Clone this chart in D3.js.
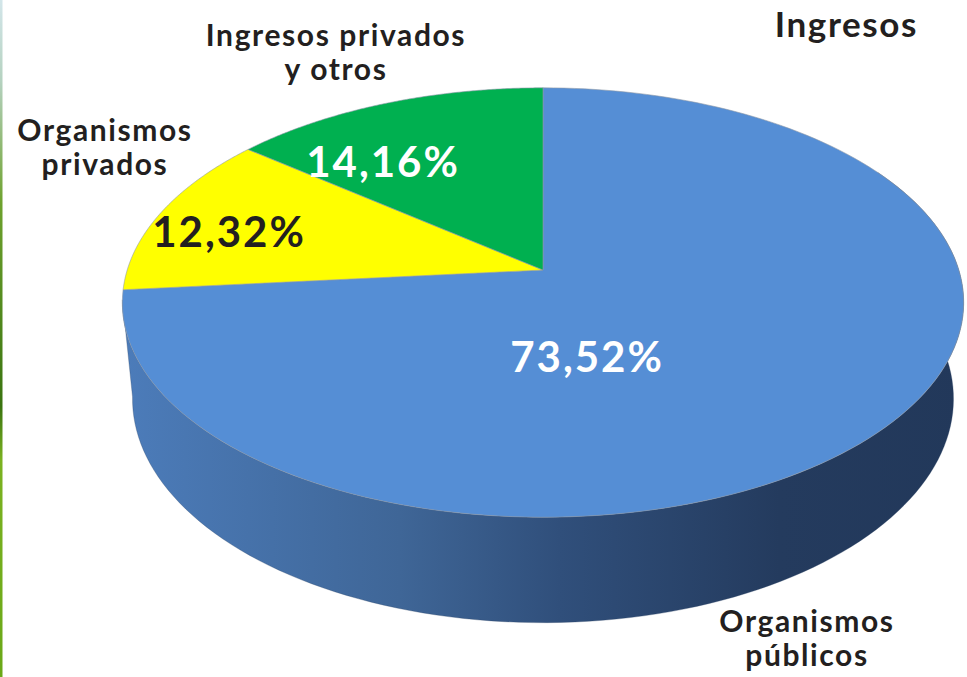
<!DOCTYPE html>
<html>
<head>
<meta charset="utf-8">
<script src="https://cdn.jsdelivr.net/npm/d3@7"></script>
<style>
  body { margin: 0; background: #fff; }
  text { font-family: "Lato", "DejaVu Sans", sans-serif; font-weight: bold; }
</style>
</head>
<body>
<script>
var width = 967, height = 677;

// data
var categories = ["Organismos públicos", "Organismos privados", "Ingresos privados y otros"];
var values = [73.52, 12.32, 14.16];
var valueLabels = ["73,52%", "12,32%", "14,16%"];
var colors = ["#558ed5", "#ffff00", "#00b050"];
var title = "Ingresos";

// perspective set-up for the 3D disc
var cx = 543, cy = 270;      // projected centre of the top face
var k = 2370;                // focal scale
var tilt = 30.3 * Math.PI / 180;
var sinT = Math.sin(tilt), cosT = Math.cos(tilt);
var D = 5.70;                // camera distance (disc radius = 1)
var thick = 0.273;           // disc thickness

function proj(theta, r, y) {
    var X = r * Math.sin(theta), Z = -r * Math.cos(theta), Y = y;
    var depth = D - (Y * sinT + Z * cosT);
    return [cx + k * X / depth, cy + k * (Z * sinT - Y * cosT) / depth];
}

var svg = d3.select("body").append("svg")
    .attr("width", width)
    .attr("height", height);

var defs = svg.append("defs");

// thin coloured strip on the left edge of the page
var strip = defs.append("linearGradient")
    .attr("id", "strip")
    .attr("x1", 0).attr("y1", 0).attr("x2", 0).attr("y2", 1);
strip.append("stop").attr("offset", "0").attr("stop-color", "#d3e6ea");
strip.append("stop").attr("offset", "0.12").attr("stop-color", "#b5d2c0");
strip.append("stop").attr("offset", "0.3").attr("stop-color", "#6ea22e");
strip.append("stop").attr("offset", "0.6").attr("stop-color", "#3a7410");
strip.append("stop").attr("offset", "0.68").attr("stop-color", "#7bb221");
strip.append("stop").attr("offset", "1").attr("stop-color", "#6aa818");

svg.append("rect")
    .attr("x", 0).attr("y", 0)
    .attr("width", 2.5).attr("height", height)
    .attr("fill", "url(#strip)");

var side = defs.append("linearGradient")
    .attr("id", "side")
    .attr("gradientUnits", "userSpaceOnUse")
    .attr("x1", 121).attr("y1", 0).attr("x2", 965).attr("y2", 0);
side.append("stop").attr("offset", "0").attr("stop-color", "#4c7cba");
side.append("stop").attr("offset", "0.33").attr("stop-color", "#3f6697");
side.append("stop").attr("offset", "0.52").attr("stop-color", "#304f7b");
side.append("stop").attr("offset", "0.78").attr("stop-color", "#243b5e");
side.append("stop").attr("offset", "1").attr("stop-color", "#22385a");

var pie = d3.pie().sort(null).value(function(d) { return d; });
var arcs = pie(values);

var line = d3.line();

function range(a0, a1, n) {
    var out = [];
    for (var i = 0; i <= n; i++) out.push(a0 + (a1 - a0) * i / n);
    return out;
}

// side walls: only the front-facing part, which here belongs to the first slice
arcs.forEach(function(a, i) {
    var lo = Math.max(a.startAngle, 60 * Math.PI / 180);
    var hi = Math.min(a.endAngle, 262 * Math.PI / 180);
    if (hi <= lo) return;
    var angs = range(lo, hi, 120);
    var pts = angs.map(function(t) { return proj(t, 1, 0); })
        .concat(angs.slice().reverse().map(function(t) { return proj(t, 1, -thick); }));
    svg.append("path")
        .attr("d", line(pts) + "Z")
        .attr("fill", i === 0 ? "url(#side)" : d3.color(colors[i]).darker(0.8))
        .attr("stroke", "#2a4063")
        .attr("stroke-width", 0.3);
});

// top faces
arcs.forEach(function(a, i) {
    var angs = range(a.startAngle, a.endAngle, 160);
    var pts = [proj(0, 0, 0)].concat(angs.map(function(t) { return proj(t, 1, 0); }));
    svg.append("path")
        .attr("d", line(pts) + "Z")
        .attr("fill", colors[i])
        .attr("stroke", "#8d99a8")
        .attr("stroke-width", 0.6)
        .attr("stroke-linejoin", "round");
});

// value labels
var valuePos = [[587, 372], [229, 247], [383, 177]];
var valueFill = ["#ffffff", "#231f20", "#ffffff"];
svg.selectAll("text.value")
    .data(valueLabels)
    .enter().append("text")
    .attr("class", "value")
    .attr("x", function(d, i) { return valuePos[i][0]; })
    .attr("y", function(d, i) { return valuePos[i][1]; })
    .attr("text-anchor", "middle")
    .attr("font-size", 42)
    .attr("letter-spacing", 2)
    .attr("fill", function(d, i) { return valueFill[i]; })
    .text(function(d) { return d; });

// category labels
var catLines = [["Organismos", "públicos"], ["Organismos", "privados"], ["Ingresos privados", "y otros"]];
var catPos = [[807, 632], [105, 141], [336, 46]];
var catGap = [34, 34, 34];
catLines.forEach(function(lines, i) {
    var t = svg.append("text")
        .attr("class", "cat")
        .attr("text-anchor", "middle")
        .attr("font-size", 30)
        .attr("letter-spacing", 1.6)
        .attr("fill", "#231f20");
    lines.forEach(function(l, j) {
        t.append("tspan")
            .attr("x", catPos[i][0])
            .attr("y", catPos[i][1] + j * catGap[i])
            .text(l);
    });
});

svg.append("text")
    .attr("x", 918)
    .attr("y", 37)
    .attr("text-anchor", "end")
    .attr("font-size", 35)
    .attr("letter-spacing", 1.6)
    .attr("fill", "#231f20")
    .text(title);
</script>
</body>
</html>
